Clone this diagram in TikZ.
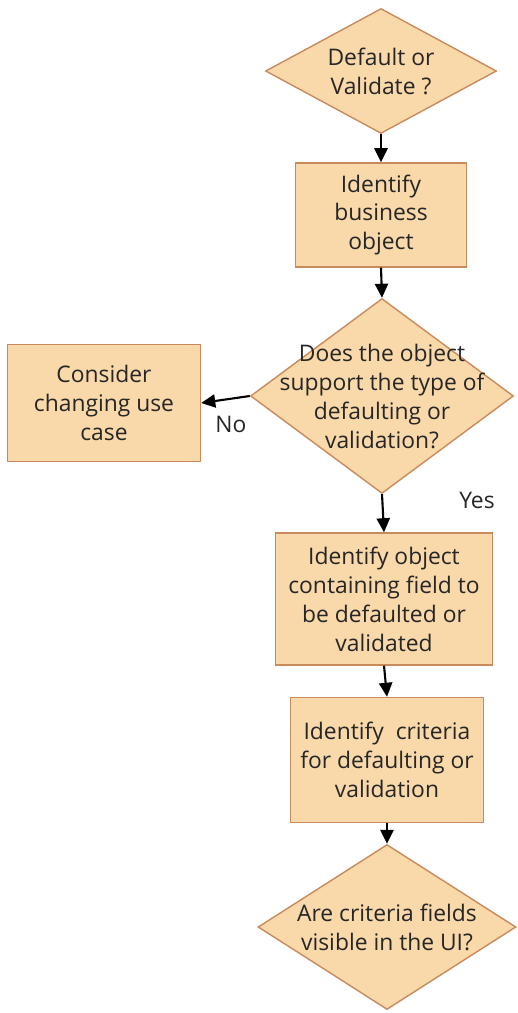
\documentclass[tikz,border=0pt]{standalone}
\usepackage{fontspec}
\setmainfont{Open Sans}
\usetikzlibrary{shapes.geometric,arrows.meta}
\definecolor{peach}{HTML}{F9D8AA}
\definecolor{rim}{HTML}{C98A5C}
\begin{document}
\begin{tikzpicture}[x=0.02cm, y=-0.02cm,
    every node/.style={font=\fontsize{13}{16.5}\selectfont, text=black!85},
    stepbox/.style={draw=rim, fill=peach, line width=0.8pt, align=center, inner sep=0pt},
    choice/.style={draw=rim, fill=peach, line width=0.8pt, diamond, inner sep=0pt},
    flow/.style={line width=1.2pt, -{Triangle[length=8pt, width=7.5pt]}}]
  % pixel coordinates of the reference, y runs downwards
  \useasboundingbox (0,0) rectangle (517,1013);
  \node[choice, minimum width=231*0.02cm, minimum height=125*0.02cm,
        label={[align=center]center:Default or\\Validate ?}] (kind) at (381,71) {};
  \node[stepbox, minimum width=171*0.02cm, minimum height=104*0.02cm] (object) at (381,215)
    {Identify\\business\\object};
  \node[choice, minimum width=263*0.02cm, minimum height=195*0.02cm,
        label={[align=center]center:Does the object\\support the type of\\defaulting or\\validation?}] (support) at (382,396) {};
  \node[stepbox, minimum width=193*0.02cm, minimum height=117*0.02cm] (change) at (104,403)
    {Consider\\changing use\\case};
  \node[stepbox, minimum width=217*0.02cm, minimum height=132*0.02cm] (field) at (384,599)
    {Identify object\\containing field to\\be defaulted or\\validated};
  \node[stepbox, minimum width=193*0.02cm, minimum height=125*0.02cm] (criteria) at (387,760)
    {Identify\ \ criteria\\for defaulting or\\validation};
  \node[choice, minimum width=258*0.02cm, minimum height=165*0.02cm,
        label={[align=center]center:Are criteria fields\\visible in the UI?}] (visible) at (387,927) {};
  \draw[flow] (kind.south) -- (object.north);
  \draw[flow] (object.south) -- (support.north);
  \draw[flow] (support.west) -- (change.east);
  \node (no) at (231,424) {No};
  \draw[flow] (support.south) -- (field.north);
  \node (yes) at (477,500) {Yes};
  \draw[flow] (field.south) -- (criteria.north);
  \draw[flow] (criteria.south) -- (visible.north);
\end{tikzpicture}
\end{document}
